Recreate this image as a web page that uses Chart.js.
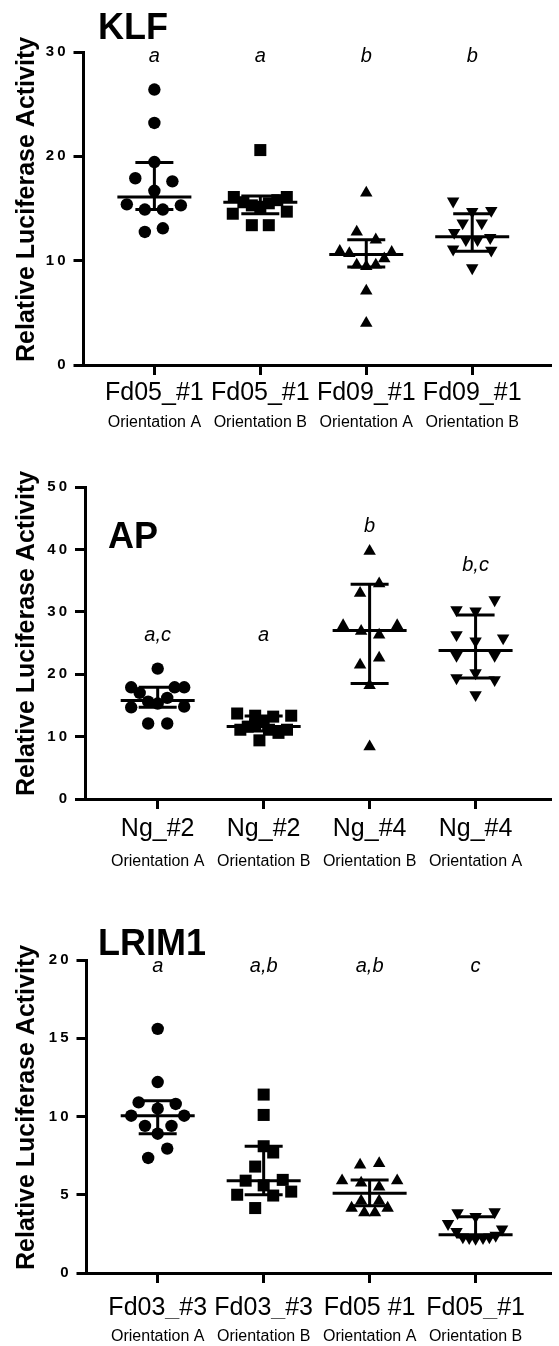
<!DOCTYPE html>
<html>
<head>
<meta charset="utf-8">
<script src="https://cdn.jsdelivr.net/npm/chart.js@4.4.1/dist/chart.umd.min.js"></script>
<style>
  body { margin: 0; background: #fff; }
  #wrap { position: relative; width: 559px; height: 1346px; }
  #wrap canvas { position: absolute; left: 0; }
</style>
</head>
<body>
<div id="wrap">
  <canvas id="klf" width="559" height="450" style="top:0px"></canvas>
  <canvas id="ap" width="559" height="440" style="top:450px"></canvas>
  <canvas id="lrim1" width="559" height="456" style="top:890px"></canvas>
</div>
<script>
// ---- KLF ----
const klfCategories = ['Fd05_#1', 'Fd05_#1', 'Fd09_#1', 'Fd09_#1']
const klfOrientations = ['Orientation A', 'Orientation B', 'Orientation A', 'Orientation B']
const klfLetters = ['a', 'a', 'b', 'b']
const klfLetterY = [29.6, 29.6, 29.6, 29.6]
const klfTicks = [0, 10, 20, 30]
const klfGroup1 = [26.4, 23.2, 19.45, 17.9, 17.6, 16.7, 15.4, 14.9, 14.9, 15.3, 13.1, 12.75]
const klfJitter1 = [0, 0, 0, -0.18, 0.17, 0, -0.26, -0.09, 0.08, 0.25, 0.08, -0.09]
const klfGroup2 = [20.6, 16.1, 15.6, 15.3, 15.5, 15.8, 16.1, 14.5, 14.7, 13.4, 13.4, 15.1]
const klfJitter2 = [0, -0.25, -0.16, -0.08, 0.08, 0.16, 0.25, -0.26, 0.25, -0.08, 0.08, 0]
const klfGroup3 = [16.5, 12.75, 12.0, 10.9, 10.7, 10.8, 10.2, 9.6, 9.45, 9.6, 7.1, 4.0]
const klfJitter3 = [0, -0.09, 0.09, -0.25, -0.16, 0.24, 0.17, -0.09, 0, 0.09, 0, 0]
const klfGroup4 = [15.7, 14.8, 14.7, 13.6, 13.6, 12.7, 12.0, 12.0, 12.2, 11.1, 11.0, 9.3]
const klfJitter4 = [-0.18, 0.18, 0, -0.09, 0.09, -0.17, -0.06, 0.05, 0.17, -0.18, 0.18, 0]
const klfMean = [16.1, 15.6, 10.6, 12.3]
const klfUpper = [19.4, 16.2, 12.0, 14.5]
const klfLower = [14.9, 14.5, 9.4, 10.9]

// ---- AP ----
const apCategories = ['Ng_#2', 'Ng_#2', 'Ng_#4', 'Ng_#4']
const apOrientations = ['Orientation A', 'Orientation B', 'Orientation B', 'Orientation A']
const apLetters = ['a,c', 'a', 'b', 'b,c']
const apLetterY = [26.2, 26.2, 43.7, 37.5]
const apTicks = [0, 10, 20, 30, 40, 50]
const apGroup1 = [20.9, 17.9, 17.9, 17.9, 17.0, 16.2, 15.6, 15.3, 14.7, 14.8, 12.1, 12.1]
const apJitter1 = [0, -0.25, 0.16, 0.25, -0.17, 0.09, -0.09, 0, -0.25, 0.25, -0.09, 0.09]
const apGroup2 = [13.7, 13.35, 13.2, 13.35, 12.4, 11.6, 11.1, 11.1, 11.1, 10.6, 9.4, 11.9]
const apJitter2 = [-0.25, -0.08, 0.09, 0.26, 0, -0.15, -0.22, 0.05, 0.22, 0.14, -0.04, -0.08]
const apGroup3 = [39.7, 34.5, 33.0, 27.8, 27.8, 26.9, 26.3, 22.6, 21.5, 18.2, 8.4]
const apJitter3 = [0, 0.09, -0.09, -0.25, 0.26, -0.08, 0.09, 0.09, -0.09, 0, 0]
const apGroup4 = [31.9, 30.3, 30.1, 26.3, 25.8, 25.3, 23.0, 23.0, 20.2, 19.4, 19.1, 16.7]
const apJitter4 = [0.18, -0.18, 0, -0.18, 0.26, 0, -0.18, 0.18, 0, -0.18, 0.18, 0]
const apMean = [15.8, 11.6, 27.0, 23.8]
const apUpper = [17.9, 13.3, 34.4, 29.5]
const apLower = [14.7, 10.9, 18.5, 19.4]

// ---- LRIM1 ----
const lrimCategories = ['Fd03_#3', 'Fd03_#3', 'Fd05 #1', 'Fd05_#1']
const lrimOrientations = ['Orientation A', 'Orientation B', 'Orientation A', 'Orientation B']
const lrimLetters = ['a', 'a,b', 'a,b', 'c']
const lrimLetterY = [19.6, 19.6, 19.6, 19.6]
const lrimTicks = [0, 5, 10, 15, 20]
const lrimGroup1 = [15.6, 12.2, 10.9, 10.8, 10.5, 10.05, 10.05, 9.4, 9.4, 8.9, 7.95, 7.35]
const lrimJitter1 = [0, 0, -0.18, 0.17, 0, -0.25, 0.25, -0.12, 0.13, 0, 0.09, -0.09]
const lrimGroup2 = [11.4, 10.1, 8.1, 7.7, 6.8, 5.9, 5.95, 5.6, 5.2, 5.0, 4.95, 4.15]
const lrimJitter2 = [0, 0, 0, 0.09, -0.08, -0.17, 0.18, 0, 0.26, -0.25, 0.09, -0.08]
const lrimGroup3 = [6.9, 7.0, 5.9, 5.9, 5.75, 5.5, 4.6, 4.6, 4.15, 4.15, 3.85, 3.85]
const lrimJitter3 = [-0.09, 0.09, -0.26, 0.26, -0.08, 0.09, -0.08, 0.09, -0.17, 0.17, -0.05, 0.05]
const lrimGroup4 = [3.85, 3.6, 3.9, 3.15, 2.8, 2.65, 2.3, 2.25, 2.2, 2.25, 2.3, 2.4]
const lrimJitter4 = [-0.17, 0, 0.18, -0.26, 0.25, -0.18, -0.12, -0.06, 0, 0.07, 0.13, 0.19]
const lrimMean = [10.05, 5.9, 5.1, 2.45]
const lrimUpper = [11.0, 8.1, 5.95, 3.6]
const lrimLower = [8.9, 5.0, 4.3, 2.3]

const FONT = '"Liberation Sans", Arial, Helvetica, sans-serif'
const markers = [
    { pointStyle: 'circle', pointRadius: 6.2, rotation: 0 },
    { pointStyle: 'rect', pointRadius: 8.5, rotation: 0 },
    { pointStyle: 'triangle', pointRadius: 7.2, rotation: 0 },
    { pointStyle: 'triangle', pointRadius: 7.2, rotation: 180 }
]

// error bars, group letters, panel title and the rotated y title
const panelDecor = {
    id: 'panelDecor',
    afterDatasetsDraw(chart, args, o) {
        const ctx = chart.ctx
        const xs = chart.scales.x
        const ys = chart.scales.y
        const area = chart.chartArea
        ctx.save()
        ctx.strokeStyle = '#000'
        ctx.lineWidth = 3
        for (let i = 0; i < o.mean.length; i++) {
            const cx = xs.getPixelForValue(i + 1)
            const yM = ys.getPixelForValue(o.mean[i])
            const yU = ys.getPixelForValue(o.upper[i])
            const yL = ys.getPixelForValue(o.lower[i])
            ctx.beginPath()
            ctx.moveTo(cx - 37, yM); ctx.lineTo(cx + 37, yM)
            ctx.moveTo(cx - 19, yU); ctx.lineTo(cx + 19, yU)
            ctx.moveTo(cx - 19, yL); ctx.lineTo(cx + 19, yL)
            ctx.moveTo(cx, yU); ctx.lineTo(cx, yL)
            ctx.stroke()
        }
        ctx.fillStyle = '#000'
        ctx.font = 'italic 20px ' + FONT
        ctx.textAlign = 'center'
        ctx.textBaseline = 'middle'
        o.letters.forEach((t, i) => {
            ctx.fillText(t, xs.getPixelForValue(i + 1), ys.getPixelForValue(o.letterY[i]))
        })
        ctx.font = 'bold 36px ' + FONT
        ctx.textAlign = 'left'
        ctx.textBaseline = 'alphabetic'
        ctx.fillText(o.title, area.left + o.titleDx, o.titleBaseline)
        ctx.translate(33.5, area.bottom - 3)
        ctx.rotate(-Math.PI / 2)
        ctx.font = 'bold 25px ' + FONT
        ctx.fillText('Relative Luciferase Activity', 0, 0)
        ctx.restore()
    }
}

function makePanel(id, p) {
    var datasets = p.groups.map((vals, g) => ({
        data: vals.map((v, k) => ({ x: g + 1 + p.jitter[g][k], y: v })),
        backgroundColor: '#000',
        borderColor: '#000',
        borderWidth: 0,
        pointStyle: markers[g].pointStyle,
        pointRadius: markers[g].pointRadius,
        rotation: markers[g].rotation,
        clip: false
    }))
    var setCategoryTicks = (scale) => {
        scale.ticks = p.categories.map((c, i) => ({ value: i + 1 }))
    }
    return new Chart(document.getElementById(id), {
        type: 'scatter',
        data: { datasets: datasets },
        plugins: [panelDecor],
        options: {
            responsive: false,
            animation: false,
            devicePixelRatio: 1,
            layout: { padding: { top: p.top, right: 0, bottom: 0, left: 0 } },
            plugins: {
                legend: { display: false },
                tooltip: { enabled: false },
                panelDecor: {
                    mean: p.mean, upper: p.upper, lower: p.lower,
                    letters: p.letters, letterY: p.letterY,
                    title: p.title, titleDx: p.titleDx, titleBaseline: p.titleBaseline
                }
            },
            scales: {
                y: {
                    min: p.yTicks[0],
                    max: p.yTicks[p.yTicks.length - 1],
                    afterBuildTicks: (scale) => { scale.ticks = p.yTicks.map(v => ({ value: v })) },
                    afterFit: (scale) => { scale.width = p.left },
                    border: { display: true, color: '#000', width: 3 },
                    grid: { drawOnChartArea: false, drawTicks: true, tickLength: 10, lineWidth: 3, color: '#000' },
                    ticks: {
                        color: '#000',
                        padding: 8,
                        font: { family: FONT, size: 15, weight: 'bold' },
                        callback: (v) => String(v).split('').join('\u2009')
                    }
                },
                x: {
                    type: 'linear',
                    position: 'bottom',
                    weight: 0,
                    min: p.xMin,
                    max: p.xMax,
                    afterBuildTicks: setCategoryTicks,
                    afterFit: (scale) => { scale.height = p.xHeight },
                    border: { display: true, color: '#000', width: 3 },
                    grid: { drawOnChartArea: false, drawTicks: true, tickLength: 10, lineWidth: 3, color: '#000' },
                    ticks: {
                        color: '#000',
                        padding: p.xPad,
                        autoSkip: false,
                        maxRotation: 0,
                        font: { family: FONT, size: 25 },
                        callback: (v) => p.categories[v - 1]
                    }
                },
                x2: {
                    type: 'linear',
                    position: 'bottom',
                    weight: 1,
                    min: p.xMin,
                    max: p.xMax,
                    afterBuildTicks: setCategoryTicks,
                    afterFit: (scale) => { scale.height = p.x2Height },
                    border: { display: false },
                    grid: { display: false, drawTicks: false },
                    ticks: {
                        color: '#000',
                        padding: p.x2Pad,
                        autoSkip: false,
                        maxRotation: 0,
                        font: { family: FONT, size: 16 },
                        callback: (v) => p.orientations[v - 1]
                    }
                }
            }
        }
    })
}

makePanel('klf', {
    title: 'KLF', titleDx: 14.5, titleBaseline: 39,
    categories: klfCategories, orientations: klfOrientations,
    letters: klfLetters, letterY: klfLetterY, yTicks: klfTicks,
    groups: [klfGroup1, klfGroup2, klfGroup3, klfGroup4],
    jitter: [klfJitter1, klfJitter2, klfJitter3, klfJitter4],
    mean: klfMean, upper: klfUpper, lower: klfLower,
    top: 52, left: 83.5, xMin: 0.331, xMax: 4.739,
    xHeight: 44, xPad: 3, x2Height: 41, x2Pad: 4
})

makePanel('ap', {
    title: 'AP', titleDx: 23, titleBaseline: 98,
    categories: apCategories, orientations: apOrientations,
    letters: apLetters, letterY: apLetterY, yTicks: apTicks,
    groups: [apGroup1, apGroup2, apGroup3, apGroup4],
    jitter: [apJitter1, apJitter2, apJitter3, apJitter4],
    mean: apMean, upper: apUpper, lower: apLower,
    top: 37, left: 85, xMin: 0.314, xMax: 4.707,
    xHeight: 44, xPad: 5, x2Height: 47, x2Pad: 9
})

makePanel('lrim1', {
    title: 'LRIM1', titleDx: 11.5, titleBaseline: 65,
    categories: lrimCategories, orientations: lrimOrientations,
    letters: lrimLetters, letterY: lrimLetterY, yTicks: lrimTicks,
    groups: [lrimGroup1, lrimGroup2, lrimGroup3, lrimGroup4],
    jitter: [lrimJitter1, lrimJitter2, lrimJitter3, lrimJitter4],
    mean: lrimMean, upper: lrimUpper, lower: lrimLower,
    top: 70, left: 86.5, xMin: 0.328, xMax: 4.707,
    xHeight: 46, xPad: 10, x2Height: 27, x2Pad: 8
})
</script>
</body>
</html>
